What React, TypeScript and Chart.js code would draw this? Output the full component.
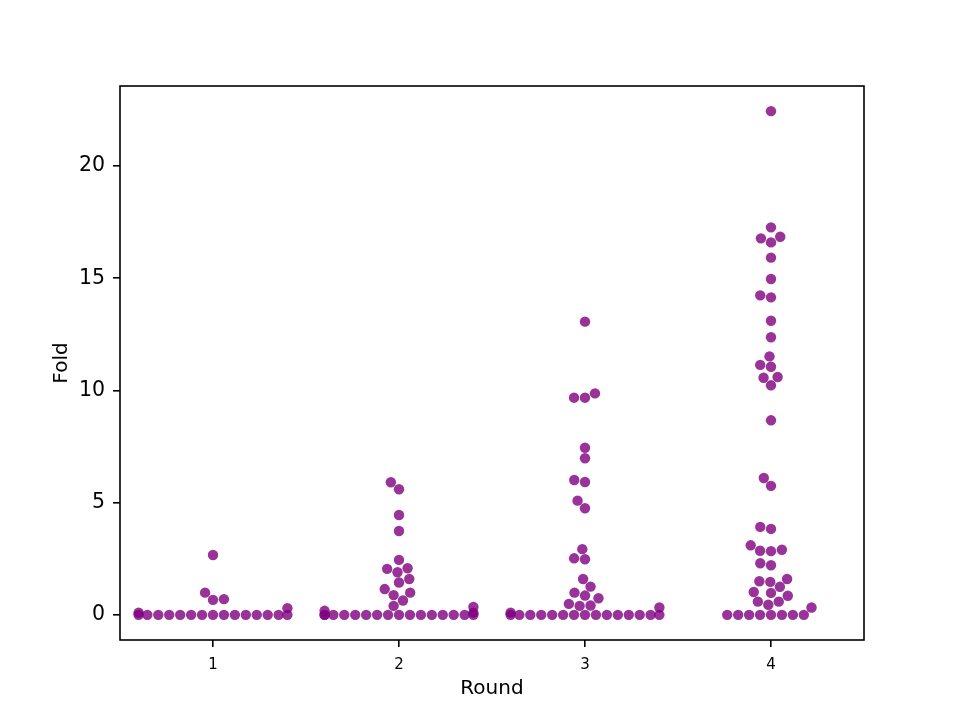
import { useEffect, useRef } from "react";
import { Chart, registerables } from "chart.js";

Chart.register(...registerables);

const categories = ["1", "2", "3", "4"];
const yTicks = [0, 5, 10, 15, 20];

// Fold values per round (zeros included)
const round1 = [
  0, 0, 0, 0, 0, 0, 0, 0, 0, 0, 0, 0, 0, 0, 0,
  0.1, 0.3, 0.67, 0.7, 0.99, 2.67,
];
const round2 = [
  0, 0, 0, 0, 0, 0, 0, 0, 0, 0, 0, 0, 0, 0, 0, 0,
  0.1, 0.18, 0.35, 0.4, 0.64, 0.88, 0.99, 1.15, 1.44, 1.6, 1.9, 2.05, 2.08,
  2.45, 3.74, 4.45, 5.6, 5.91,
];
const round3 = [
  0, 0, 0, 0, 0, 0, 0, 0, 0, 0, 0, 0, 0, 0, 0,
  0.1, 0.33, 0.4, 0.42, 0.49, 0.74, 0.86, 0.99, 1.26, 1.6, 2.48, 2.52, 2.93,
  4.75, 5.09, 5.92, 6.01, 6.98, 7.45, 9.68, 9.68, 9.87, 13.07,
];
const round4 = [
  0, 0, 0, 0, 0, 0, 0, 0,
  0.33, 0.45, 0.59, 0.59, 0.85, 0.98, 1.02, 1.25, 1.47, 1.5, 1.6, 2.21, 2.3,
  2.84, 2.86, 2.9, 3.1, 3.83, 3.92, 5.75, 6.1, 8.67, 10.23, 10.57, 10.6,
  11.06, 11.14, 11.52, 12.37, 13.11, 14.15, 14.24, 14.97, 15.92, 16.6, 16.78,
  16.85, 17.27, 22.45,
];
const rounds = [round1, round2, round3, round4];

const R = 5.21; // marker radius px
const FONT = "'DejaVu Sans', sans-serif";

// seaborn-like beeswarm, done in pixel space after the elements are positioned
const swarmPlugin = {
  id: "swarm",
  afterDatasetsUpdate(chart: any) {
    const xs = chart.scales.x;
    chart.data.datasets.forEach((_ds: any, di: number) => {
      const pts = chart.getDatasetMeta(di).data;
      const center = xs.getPixelForValue(di);
      const half = xs.getPixelForValue(di + 0.4) - center;
      const order = pts.map((_p: any, i: number) => i).sort((a: number, b: number) => pts[b].y - pts[a].y);
      const placed: { x: number; y: number }[] = [];
      const newX: number[] = new Array(pts.length);
      for (const idx of order) {
        const yi = -pts[idx].y;
        const nb: { x: number; y: number }[] = [];
        for (let j = placed.length - 1; j >= 0; j--) {
          if (yi - placed[j].y < 2 * R) nb.push(placed[j]);
          else break;
        }
        nb.reverse();
        let cands = [0];
        let leftFirst = true;
        for (const n of nb) {
          const dy = yi - n.y;
          const dx = Math.sqrt(Math.max(4 * R * R - dy * dy, 0)) * 1.05;
          if (leftFirst) cands.push(n.x - dx, n.x + dx);
          else cands.push(n.x + dx, n.x - dx);
          leftFirst = !leftFirst;
        }
        const off = (x: number) => Math.round(Math.abs(x) * 1e6);
        cands = cands
          .map((x, k) => ({ x, k }))
          .sort((a, b) => off(a.x) - off(b.x) || a.k - b.k)
          .map((c) => c.x);
        let xi = cands[0];
        if (nb.length) {
          for (const c of cands) {
            if (nb.every((n) => (n.x - c) ** 2 + (n.y - yi) ** 2 >= 4 * R * R - 1e-9)) {
              xi = c;
              break;
            }
          }
        }
        placed.push({ x: xi, y: yi });
        newX[idx] = xi;
      }
      pts.forEach((p: any, i: number) => {
        p.x = center + Math.min(half, Math.max(-half, newX[i]));
      });
    });
  },
};

const framePlugin = {
  id: "frame",
  afterDatasetsDraw(chart: any) {
    const { ctx, chartArea: a } = chart;
    ctx.save();
    ctx.strokeStyle = "#000";
    ctx.lineWidth = 1.6;
    ctx.strokeRect(a.left, a.top, a.right - a.left, a.bottom - a.top);
    ctx.restore();
  },
};

export default function App() {
  const ref = useRef<HTMLCanvasElement | null>(null);
  useEffect(() => {
    document.body.style.margin = "0";
    if (!ref.current) return;
    const ch = new Chart(ref.current, {
      type: "scatter",
      data: {
        datasets: rounds.map((vals, i) => ({
          label: categories[i],
          data: vals.map((v) => ({ x: i, y: v })),
          pointRadius: R,
          pointBorderWidth: 0,
          pointBackgroundColor: "rgba(128,0,128,0.8)",
        })),
      },
      options: {
        responsive: false,
        animation: false,
        events: [],
        layout: { padding: { top: 86, right: 96, left: 0, bottom: 0 } },
        plugins: { legend: { display: false }, tooltip: { enabled: false } },
        scales: {
          x: {
            type: "linear",
            min: -0.5,
            max: 3.5,
            afterBuildTicks: (s: any) => {
              s.ticks = categories.map((_c, i) => ({ value: i }));
            },
            afterFit: (s: any) => {
              s.height = 80;
            },
            ticks: {
              autoSkip: false,
              maxRotation: 0,
              callback: (v: any) => categories[v],
              color: "#000",
              padding: 9,
              font: { family: FONT, size: 15 },
            },
            grid: { drawOnChartArea: false, drawTicks: true, tickLength: 7, tickColor: "#000", lineWidth: 1.6 },
            border: { display: false },
            title: {
              display: true,
              text: "Round",
              color: "#000",
              font: { family: FONT, size: 20 },
              padding: { top: 0, bottom: 19 },
            },
          },
          y: {
            min: -1.12,
            max: 23.57,
            afterBuildTicks: (s: any) => {
              s.ticks = yTicks.map((v) => ({ value: v }));
            },
            afterFit: (s: any) => {
              s.width = 120;
            },
            ticks: { color: "#000", padding: 8, font: { family: FONT, size: 20.5 } },
            grid: { drawOnChartArea: false, drawTicks: true, tickLength: 7, tickColor: "#000", lineWidth: 1.6 },
            border: { display: false },
            title: {
              display: true,
              text: "Fold",
              color: "#000",
              font: { family: FONT, size: 20 },
              padding: { top: 50, bottom: 0 },
            },
          },
        },
      },
      plugins: [swarmPlugin, framePlugin],
    });
    return () => ch.destroy();
  }, []);
  return (
    <div style={{ width: 960, height: 720, background: "#fff" }}>
      <canvas ref={ref} width={960} height={720}></canvas>
    </div>
  );
}
